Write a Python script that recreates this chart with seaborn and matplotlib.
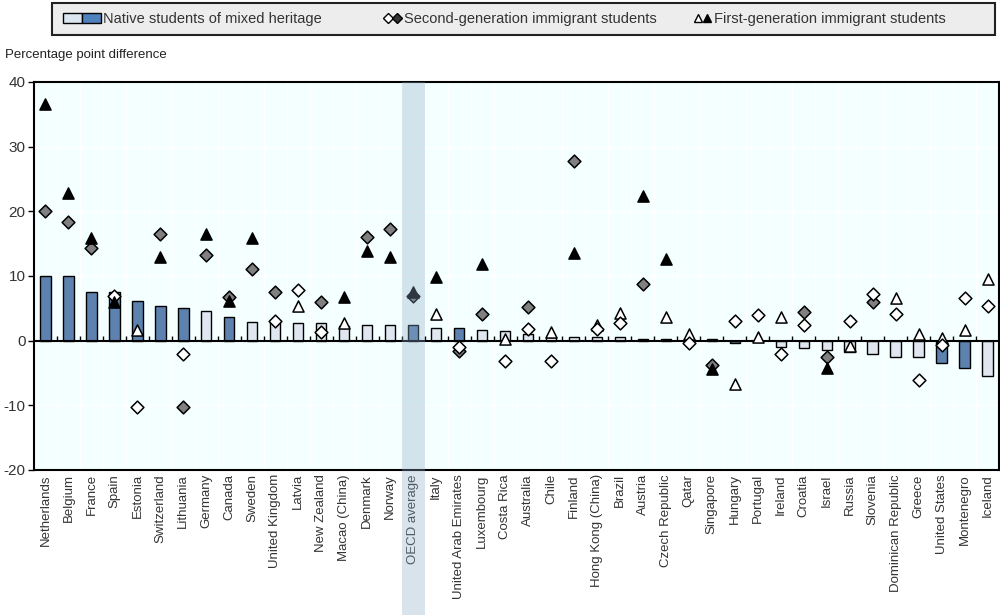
import matplotlib
matplotlib.use("Agg")
import numpy as np
import pandas as pd
import matplotlib.pyplot as plt
import seaborn as sns
from matplotlib.patches import Patch, Rectangle
from matplotlib.lines import Line2D
from matplotlib.legend_handler import HandlerTuple
from matplotlib.transforms import blended_transform_factory


countries = ["Netherlands", "Belgium", "France", "Spain", "Estonia", "Switzerland", "Lithuania",
             "Germany", "Canada", "Sweden", "United Kingdom", "Latvia", "New Zealand", "Macao (China)",
             "Denmark", "Norway", "OECD average", "Italy", "United Arab Emirates", "Luxembourg",
             "Costa Rica", "Australia", "Chile", "Finland", "Hong Kong (China)", "Brazil", "Austria",
             "Czech Republic", "Qatar", "Singapore", "Hungary", "Portugal", "Ireland", "Croatia",
             "Israel", "Russia", "Slovenia", "Dominican Republic", "Greece", "United States",
             "Montenegro", "Iceland"]

# native students of mixed heritage (bars)
mixed = [10.0, 10.0, 7.5, 7.5, 6.2, 5.4, 5.1, 4.6, 3.7, 2.9, 3.0, 2.7, 2.7, 2.3,
         2.4, 2.4, 2.4, 1.9, 1.9, 1.6, 1.5, 1.1, 0.6, 0.5, 0.5, 0.5, 0.3,
         0.3, 0.2, 0.2, -0.3, -0.1, -1.0, -1.2, -1.5, -1.7, -2.1, -2.5, -2.5, -3.5,
         -4.3, -5.4]
mixed_sig = ["sig", "sig", "sig", "sig", "sig", "sig", "sig", "ns", "sig", "ns", "ns", "ns", "ns", "ns",
             "ns", "ns", "sig", "ns", "sig", "ns", "ns", "ns", "ns", "ns", "ns", "ns", "sig",
             "sig", "sig", "sig", "sig", "ns", "ns", "ns", "ns", "ns", "ns", "ns", "ns", "sig",
             "sig", "ns"]

# marker kinds: G grey diamond, D white diamond, T white triangle, B black triangle
second = [20.0, 18.3, 14.3, 6.9, -10.3, 16.5, -2.1, 13.3, 6.7, 11.1, 7.6, 7.9, 6.0, 2.8,
          16.0, 17.3, 6.9, 4.1, -1.6, 4.1, -3.2, 5.2, -3.2, 27.8, 1.75, 2.8, 8.7,
          3.6, -0.4, -3.7, 3.1, 3.9, -2.1, 4.5, -2.5, 3.1, 6.0, 4.1, -6.1, 0.4,
          6.6, 5.3]
second_kind = ["G", "G", "G", "D", "D", "G", "D", "G", "G", "G", "G", "D", "G", "T",
               "G", "G", "G", "T", "G", "G", "D", "G", "D", "G", "D", "D", "G",
               "T", "D", "G", "D", "D", "D", "G", "G", "D", "G", "D", "D", "T",
               "D", "D"]
first = [36.6, 22.8, 15.9, 6.0, 1.65, 12.9, -10.3, 16.5, 6.2, 15.9, 3.1, 5.4, 1.3, 6.7,
         13.9, 12.9, 7.5, 9.9, -1.0, 11.9, 0.2, 1.75, 1.4, 13.5, 2.4, 4.2, 22.4,
         12.7, 1.1, -4.4, -6.7, 0.6, 3.6, 2.4, -4.3, -0.8, 7.2, 6.6, 1.1, -0.7,
         1.65, 9.5]
first_kind = ["B", "B", "B", "B", "T", "B", "G", "B", "B", "B", "D", "T", "D", "B",
              "B", "B", "B", "B", "D", "B", "T", "D", "T", "B", "T", "T", "B",
              "B", "T", "B", "T", "T", "T", "D", "B", "T", "D", "T", "T", "D",
              "T", "T"]

sns.set_style("white")
plt.rcParams["font.family"] = ["Liberation Sans Narrow", "Liberation Sans", "DejaVu Sans"]
plt.rcParams["font.stretch"] = "condensed"
plt.rcParams["axes.unicode_minus"] = False

fig = plt.figure(figsize=(10, 6.15), dpi=100)
ax = fig.add_axes([0.034, 0.2358, 0.965, 0.6309])
ax.set_facecolor("#F4FFFF")

bars_df = pd.DataFrame({"country": countries, "value": mixed, "sig": mixed_sig})
sns.barplot(data=bars_df, x="country", y="value", hue="sig", order=countries,
            hue_order=["ns", "sig"], palette={"ns": "#DCE6F2", "sig": "#4F81BD"},
            dodge=False, width=0.45, edgecolor="black", linewidth=1, legend=False,
            ax=ax, zorder=3)

points = pd.concat([
    pd.DataFrame({"country": countries, "value": second, "kind": second_kind}),
    pd.DataFrame({"country": countries, "value": first, "kind": first_kind}),
])
styles = {"G": ("D", "#808080", 6.5), "T": ("^", "white", 8), "D": ("D", "white", 6.5),
          "B": ("^", "black", 8)}
for kind in ["G", "T", "D", "B"]:
    sub = points[points["kind"] == kind]
    marker, face, size = styles[kind]
    sns.stripplot(data=sub, x="country", y="value", order=countries, jitter=False,
                  marker=marker, color=face, size=size, edgecolor="black", linewidth=1.1,
                  ax=ax, zorder=4)

n = len(countries)
ax.set_xlim(-0.5, n - 0.5)
ax.set_ylim(-20, 40)
ax.set_yticks(range(-20, 41, 10))
ax.set_xticks(range(n))
ax.set_xticklabels(countries, rotation=90, fontsize=9.5, color="#333333")
ax.tick_params(axis="y", labelsize=11, labelcolor="#333333", length=4, width=1, left=True,
               direction="out", color="black", pad=2)
ax.tick_params(axis="x", length=0, pad=3)
ax.set_xlabel("")
ax.set_ylabel("")

ax.set_xticks(np.arange(n - 1) + 0.5, minor=True)
ax.tick_params(axis="x", which="minor", length=0)
ax.grid(True, which="minor", axis="x", color="white", lw=1, zorder=0)
ax.grid(True, which="major", axis="y", color="white", lw=1, zorder=0)
ax.set_axisbelow(True)

ax.axhline(0, color="black", lw=1.5, zorder=3.5)
ax.vlines(np.arange(n - 1) + 0.5, 0, 0.7, color="black", lw=1, zorder=3.5)

for s in ax.spines.values():
    s.set_visible(True)
    s.set_color("black")
    s.set_linewidth(1.5)

# OECD average band
trans = blended_transform_factory(ax.transData, ax.transAxes)
oecd = countries.index("OECD average")
ax.add_patch(Rectangle((oecd - 0.5, -0.374), 1, 1.374, transform=trans, clip_on=False,
                       facecolor="#8CAAC3", alpha=0.33, edgecolor="none", zorder=10))

fig.text(0.005, 0.905, "Percentage point difference", fontsize=9.5, color="#222222")

# legend box and three entries
fig.patches.append(Rectangle((0.052, 0.943), 0.943, 0.052, transform=fig.transFigure,
                             facecolor="#EDEDED", edgecolor="#222222", lw=1.5))
entries = [
    ((Patch(facecolor="#DCE6F2", edgecolor="black"), Patch(facecolor="#4F81BD", edgecolor="black")),
     "Native students of mixed heritage", 0.063, 2.6),
    ((Line2D([], [], marker="D", ls="", mfc="white", mec="black", ms=5),
      Line2D([], [], marker="D", ls="", mfc="#333333", mec="black", ms=5)),
     "Second-generation immigrant students", 0.384, 1.2),
    ((Line2D([], [], marker="^", ls="", mfc="white", mec="black", ms=6),
      Line2D([], [], marker="^", ls="", mfc="black", mec="black", ms=6)),
     "First-generation immigrant students", 0.694, 1.2),
]
for handle, label, x, hl in entries:
    leg = fig.legend([handle], [label], loc="center left", bbox_to_anchor=(x, 0.969),
                     handler_map={tuple: HandlerTuple(ndivide=None, pad=0.05)},
                     fontsize=10.5, frameon=False, handlelength=hl, handletextpad=0.15,
                     borderpad=0, borderaxespad=0)
    for t in leg.get_texts():
        t.set_color("#333333")

fig.savefig("out.png", dpi=100)
